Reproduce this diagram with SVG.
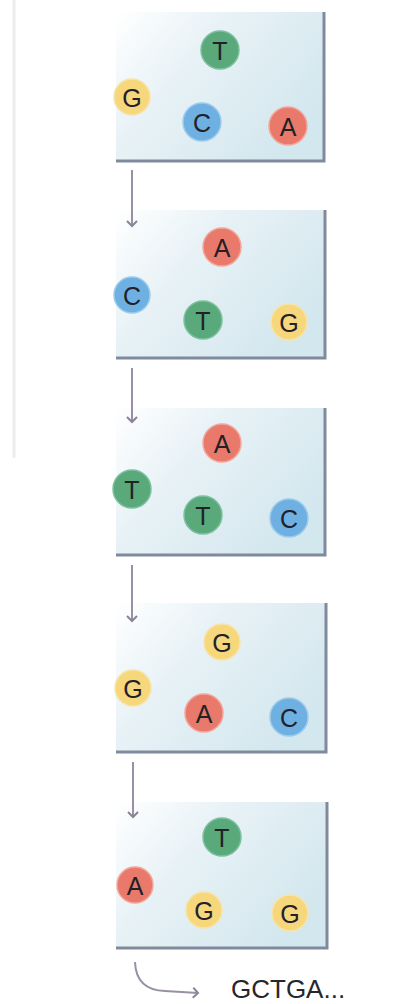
<svg xmlns="http://www.w3.org/2000/svg" width="397" height="1004" viewBox="0 0 397 1004">
  <defs>
    <linearGradient id="panelFill" x1="0" y1="0" x2="1" y2="0.6">
      <stop offset="0" stop-color="#ffffff"/>
      <stop offset="0.4" stop-color="#e8f2f6"/>
      <stop offset="1" stop-color="#d3e7ee"/>
    </linearGradient>
    <!-- open chevron head, drawn pointing along +x so orient="auto" follows the line -->
    <marker id="chev" viewBox="0 0 8 12" refX="6" refY="6" markerWidth="8" markerHeight="12" markerUnits="userSpaceOnUse" orient="auto">
      <path d="M1,1 L6,6 L1,11" fill="none" stroke="#8a8398" stroke-width="2"/>
    </marker>
  </defs>
  <style>
    .panel { fill: url(#panelFill); }
    .edge { fill: none; stroke: #7f8b9c; stroke-width: 3; }
    .base { stroke-width: 1.5; }
    .g { fill: #5aa97b; stroke: #7cc0a0; }
    .y { fill: #f6d77c; stroke: #f7e4aa; }
    .b { fill: #6eb0e2; stroke: #9ccbed; }
    .r { fill: #e9796a; stroke: #f3a79c; }
    .lbl { font-family: "Liberation Sans", Arial, sans-serif; font-size: 25px; fill: #222128; text-anchor: middle; dominant-baseline: central; }
    .conn { fill: none; stroke: #9a90a4; stroke-width: 2; }
    .out { font-family: "Liberation Sans", Arial, sans-serif; font-size: 26px; fill: #26262b; }
  </style>

  <rect width="397" height="1004" fill="#ffffff"/>
  <!-- faint page margin rule -->
  <line x1="14" y1="0" x2="14" y2="458" stroke="#ededed" stroke-width="3"/>

  <!-- step 1: G T C A -->
  <g id="panel1">
    <rect class="panel" x="116" y="12" width="208" height="149"/>
    <path class="edge" d="M116,161 H324 V12"/>
    <circle class="base g" cx="220" cy="50" r="19"/><text class="lbl" x="220" y="51">T</text>
    <circle class="base y" cx="132" cy="97" r="18"/><text class="lbl" x="132" y="98">G</text>
    <circle class="base b" cx="202" cy="122" r="19"/><text class="lbl" x="202" y="123">C</text>
    <circle class="base r" cx="288" cy="126" r="19"/><text class="lbl" x="288" y="127">A</text>
  </g>

  <!-- step 2: C A T G -->
  <g id="panel2">
    <rect class="panel" x="116" y="210" width="209" height="148"/>
    <path class="edge" d="M116,358 H325 V210"/>
    <circle class="base r" cx="222" cy="247" r="19"/><text class="lbl" x="222" y="248">A</text>
    <circle class="base b" cx="132" cy="295" r="18"/><text class="lbl" x="132" y="296">C</text>
    <circle class="base g" cx="203" cy="320" r="19"/><text class="lbl" x="203" y="321">T</text>
    <circle class="base y" cx="289" cy="322" r="18"/><text class="lbl" x="289" y="323">G</text>
  </g>

  <!-- step 3: T A T C -->
  <g id="panel3">
    <rect class="panel" x="116" y="408" width="209" height="147"/>
    <path class="edge" d="M116,555 H325 V408"/>
    <circle class="base r" cx="222" cy="443" r="19"/><text class="lbl" x="222" y="444">A</text>
    <circle class="base g" cx="132" cy="489" r="19"/><text class="lbl" x="132" y="490">T</text>
    <circle class="base g" cx="203" cy="515" r="19"/><text class="lbl" x="203" y="516">T</text>
    <circle class="base b" cx="289" cy="518" r="19"/><text class="lbl" x="289" y="519">C</text>
  </g>

  <!-- step 4: G G A C -->
  <g id="panel4">
    <rect class="panel" x="116" y="603" width="210" height="149"/>
    <path class="edge" d="M116,752 H326 V603"/>
    <circle class="base y" cx="222" cy="642" r="18"/><text class="lbl" x="222" y="643">G</text>
    <circle class="base y" cx="133" cy="688" r="18"/><text class="lbl" x="133" y="689">G</text>
    <circle class="base r" cx="204" cy="713" r="19"/><text class="lbl" x="204" y="714">A</text>
    <circle class="base b" cx="289" cy="717" r="19"/><text class="lbl" x="289" y="718">C</text>
  </g>

  <!-- step 5: A T G G -->
  <g id="panel5">
    <rect class="panel" x="116" y="802" width="211" height="146"/>
    <path class="edge" d="M116,948 H327 V802"/>
    <circle class="base g" cx="222" cy="837" r="19"/><text class="lbl" x="222" y="838">T</text>
    <circle class="base r" cx="135" cy="885" r="18"/><text class="lbl" x="135" y="886">A</text>
    <circle class="base y" cx="204" cy="910" r="18"/><text class="lbl" x="204" y="911">G</text>
    <circle class="base y" cx="290" cy="913" r="18"/><text class="lbl" x="290" y="914">G</text>
  </g>

  <!-- read-out sequence -->
  <g id="readout">
    <text class="out" x="231" y="998">GCTGA...</text>
  </g>

  <!-- step connectors -->
  <g id="connectors">
    <line class="conn" x1="132" y1="170" x2="132" y2="226" marker-end="url(#chev)"/>
    <line class="conn" x1="132" y1="368" x2="132" y2="422" marker-end="url(#chev)"/>
    <line class="conn" x1="132" y1="565" x2="132" y2="621" marker-end="url(#chev)"/>
    <line class="conn" x1="133" y1="762" x2="133" y2="817" marker-end="url(#chev)"/>
    <path class="conn" d="M135,962 Q136,990 165,991 L198,993" stroke="#8c8c94" marker-end="url(#chev)"/>
  </g>
</svg>
